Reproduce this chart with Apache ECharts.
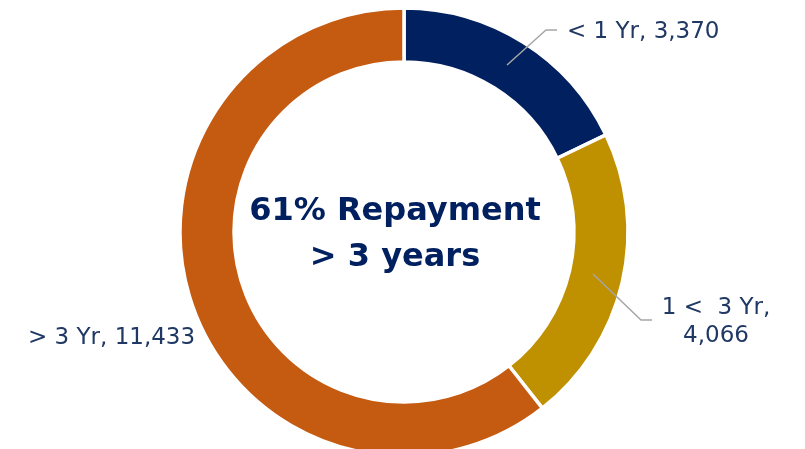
<!DOCTYPE html>
<html>
<head>
<meta charset="utf-8">
<script src="https://cdn.jsdelivr.net/npm/echarts@6/dist/echarts.min.js"></script>
<style>
html,body{margin:0;padding:0;background:#fff;}
#main{width:805px;height:449px;}
</style>
</head>
<body>
<div id="main"></div>
<script>
// Data
const categories = ['< 1 Yr', '1 <  3 Yr', '> 3 Yr'];
const values = [3370, 4066, 11433];
const colors = ['#002060', '#BF9000', '#C55A11'];
const centerLines = ['61% Repayment', '> 3 years'];

// Label layout (label positions only)
const labelPos = [
  {x: 567, y: 32, align: 'left', line: [[507, 65], [546, 30], [557, 30]]},
  {x: 716, y: 322, align: 'center', line: [[593, 274], [641, 320], [652, 320]]},
  {x: 28, y: 338, align: 'left', line: null}
];

const fmt = n => n.toLocaleString('en-US');
const pieData = (withStyle) => categories.map((c, i) => ({
  name: c,
  value: values[i],
  itemStyle: withStyle ? {color: colors[i]} : {color: 'rgba(0,0,0,0)', borderWidth: 0},
  labelLine: {show: i !== 2}
}));

const common = {
  type: 'pie',
  center: [404, 232],
  radius: [170, 224],
  startAngle: 90,
  clockwise: true,
  silent: true
};

const chart = echarts.init(document.getElementById('main'), null, {renderer: 'canvas'});
chart.setOption({
  animation: false,
  graphic: [{
    type: 'text',
    x: 395,
    y: 235,
    z: 10,
    style: {
      text: centerLines.join('\n'),
      fill: '#002060',
      font: 'bold 32px "DejaVu Sans"',
      lineHeight: 46,
      align: 'center',
      verticalAlign: 'middle'
    }
  }],
  series: [
    Object.assign({}, common, {
      z: 2,
      itemStyle: {borderColor: '#ffffff', borderWidth: 3.5},
      label: {show: false},
      labelLine: {show: false},
      data: pieData(true)
    }),
    Object.assign({}, common, {
      z: 5,
      label: {
        show: true,
        color: '#1F3864',
        fontFamily: 'DejaVu Sans',
        fontSize: 23,
        lineHeight: 28,
        overflow: 'none',
        formatter: p => {
          if (p.dataIndex === 1) return p.name + ',\n' + fmt(p.value);
          return p.name + ', ' + fmt(p.value);
        }
      },
      labelLine: {show: true, lineStyle: {color: '#A6A6A6', width: 1.5}},
      labelLayout: function (params) {
        const lp = labelPos[params.dataIndex];
        const r = {x: lp.x, y: lp.y, align: lp.align, verticalAlign: 'middle'};
        if (lp.line) r.labelLinePoints = lp.line;
        return r;
      },
      data: pieData(false)
    })
  ]
});
</script>
</body>
</html>
